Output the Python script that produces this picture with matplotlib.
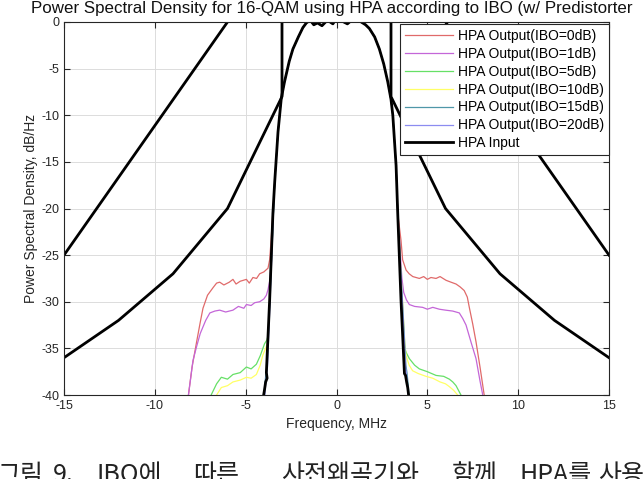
import numpy as np
import matplotlib
matplotlib.use('Agg')
import matplotlib.pyplot as plt

plt.rcParams['font.family'] = ['Liberation Sans', 'Noto Sans CJK KR', 'DejaVu Sans']
plt.rcParams['axes.unicode_minus'] = False

#-------------------------------------------------------------------------------------
# HPA input PSD (black, thick)
freq_in = [-4.05, -3.96, -3.9, -3.82, -3.86, -3.68, -3.5, -3.4, -3.22, -3.04, -2.86, -2.6, -2.4,
           -2.1, -1.85, -1.66, -1.45, -1.25, -1.05, -0.8, -0.5, -0.2, 0.0, 0.3, 0.6, 0.9, 1.2,
           1.36, 1.6, 1.81, 2.1, 2.36, 2.6, 2.82, 3.0, 3.1, 3.28, 3.37, 3.55, 3.74, 3.8, 3.86, 3.92, 4.0]
psd_in = [-40.5, -39.4, -38.6, -38.2, -37.6, -29.8, -20.5, -17.1, -11.8, -8.2, -6.4, -4.2, -2.9,
          -1.6, -0.6, -0.1, 0.2, -0.3, -0.1, -0.4, 0.2, -0.2, 0.4, 0.1, -0.2, 0.3, 0.2,
          0.0, -0.3, -0.7, -1.6, -2.9, -4.5, -6.4, -8.3, -10.0, -15.4, -20.5, -29.8, -37.7, -37.9, -38.6, -39.2, -40.5]

# spectral masks (black)
maskA_left_f = [-15, -6]
maskA_left_p = [-25, 0]
maskA_right_f = [6, 15]
maskA_right_p = [0, -25]
maskB_left_f = [-15, -12, -9, -6, -3, -3]
maskB_left_p = [-36, -32, -27, -20, -8, 0]
maskB_right_f = [3, 3, 6, 9, 12, 15]
maskB_right_p = [0, -8, -20, -27, -32, -36]

# HPA outputs, out-of-band parts (left / right of the main lobe)
ibo0_fl = [-8.4, -8.15, -7.95, -7.7, -7.5, -7.35, -7.1, -6.8, -6.6, -6.43, -6.2, -5.9, -5.7, -5.53,
           -5.3, -4.96, -4.8, -4.6, -4.4, -4.23, -4.0, -3.77, -3.68, -3.6]
ibo0_pl = [-42, -40, -37, -34.3, -32.2, -30.7, -29.3, -28.5, -28.0, -27.9, -28.2, -27.9, -27.6, -28.1,
           -27.8, -27.6, -28.0, -27.4, -27.5, -27.0, -26.8, -26.4, -25.5, -23.4]
ibo0_fr = [3.55, 3.64, 3.83, 4.0, 4.2, 4.56, 4.8, 5.0, 5.2, 5.48, 5.7, 6.03, 6.3, 6.58, 6.8, 7.03,
           7.2, 7.31, 7.5, 7.68, 7.9, 8.13, 8.3]
ibo0_pr = [-23.4, -25.5, -26.6, -27.0, -27.3, -27.5, -27.3, -27.6, -27.4, -27.5, -27.3, -27.7, -27.9,
           -28.1, -28.4, -28.8, -29.5, -30.6, -32.4, -34.3, -37.0, -40, -42]

ibo1_fl = [-8.4, -8.15, -7.9, -7.7, -7.5, -7.2, -6.97, -6.7, -6.43, -6.1, -5.7, -5.4, -5.1, -4.96,
           -4.7, -4.5, -4.23, -4.0, -3.86, -3.77, -3.65]
ibo1_pl = [-42, -40, -36.3, -34.8, -33.4, -32.0, -31.2, -31.0, -30.9, -31.1, -30.9, -30.5, -30.7,
           -30.3, -30.4, -30.1, -30.0, -29.7, -29.3, -28.7, -27.5]
ibo1_fr = [3.6, 3.7, 3.85, 4.01, 4.3, 4.74, 5.0, 5.3, 5.66, 6.0, 6.4, 6.76, 6.95, 7.13, 7.4, 7.68,
           7.9, 8.05, 8.2]
ibo1_pr = [-27.5, -29.0, -29.8, -30.3, -30.5, -30.6, -30.8, -30.6, -30.8, -30.9, -31.0, -31.2, -31.8,
           -32.5, -34.3, -36.1, -38.5, -40, -42]

ibo5_fl = [-7.1, -6.9, -6.6, -6.34, -6.0, -5.7, -5.3, -4.96, -4.7, -4.41, -4.2, -3.96, -3.83, -3.75]
ibo5_pl = [-42, -40, -38.8, -38.1, -38.3, -37.8, -37.6, -37.0, -37.2, -36.7, -35.8, -34.5, -34.1, -33.5]
ibo5_fr = [3.72, 3.85, 4.01, 4.3, 4.56, 5.0, 5.48, 5.9, 6.21, 6.4, 6.58, 6.85, 7.0]
ibo5_pr = [-34.8, -35.5, -36.1, -36.8, -37.2, -37.5, -37.9, -38.0, -38.3, -38.6, -39.0, -40, -42]

ibo10_fl = [-6.8, -6.6, -6.34, -6.0, -5.7, -5.3, -4.96, -4.7, -4.41, -4.2, -4.05, -3.86, -3.78]
ibo10_pl = [-42, -40, -39.2, -39.0, -38.6, -38.4, -38.1, -38.2, -37.8, -36.8, -35.7, -34.8, -34.3]
ibo10_fr = [3.76, 3.83, 4.0, 4.19, 4.5, 4.93, 5.3, 5.7, 6.0, 6.21, 6.45, 6.67, 6.8]
ibo10_pr = [-34.5, -35.8, -36.8, -37.4, -37.7, -38.0, -38.2, -38.6, -38.8, -39.1, -39.5, -40, -42]

ibo15_fl = [-4.05, -3.95, -3.88, -3.82]
ibo15_pl = [-42, -39, -37.6, -36.8]
ibo15_fr = [3.82, 3.88, 3.95, 4.05]
ibo15_pr = [-36.8, -37.6, -39, -42]

ibo20_fl = [-4.02, -3.93, -3.86, -3.8]
ibo20_pl = [-42, -39.5, -38, -37]
ibo20_fr = [3.8, 3.86, 3.93, 4.02]
ibo20_pr = [-37, -38, -39.5, -42]

labels = ['HPA Output(IBO=0dB)', 'HPA Output(IBO=1dB)', 'HPA Output(IBO=5dB)',
          'HPA Output(IBO=10dB)', 'HPA Output(IBO=15dB)', 'HPA Output(IBO=20dB)']
colors = ['#e06a6a', '#c466d8', '#66e066', '#ffff66', '#4f97a8', '#8c8cf0']

# title is cropped in the source image after "Predistorter"
title = 'Power Spectral Density for 16-QAM using HPA according to IBO (w/ Predistorter'
# caption words and their left edges (pixels) as laid out in the page
caption_words = ['그림', '9.', 'IBO에', '따른', '사전왜곡기와', '함께', 'HPA를', '사용한']
caption_x = [-2, 53, 96, 193, 281, 452, 520, 598]

#-------------------------------------------------------------------------------------
fig = plt.figure(figsize=(6.43, 4.79), dpi=100)
ax = fig.add_axes([64/643, 1-395/479, (609-64)/643, (395-22)/479])

fin = np.array(freq_in)
pin = np.array(psd_in)

outs = [(ibo0_fl, ibo0_pl, ibo0_fr, ibo0_pr), (ibo1_fl, ibo1_pl, ibo1_fr, ibo1_pr),
        (ibo5_fl, ibo5_pl, ibo5_fr, ibo5_pr), (ibo10_fl, ibo10_pl, ibo10_fr, ibo10_pr),
        (ibo15_fl, ibo15_pl, ibo15_fr, ibo15_pr), (ibo20_fl, ibo20_pl, ibo20_fr, ibo20_pr)]
inner = np.abs(fin) < 3.45
for (fl, pl, fr, pr), lab, c in zip(outs, labels, colors):
    f = np.concatenate([fl, fin[inner], fr])
    p = np.concatenate([pl, pin[inner], pr])
    ax.plot(f, p, color=c, lw=0.9, label=lab)

ax.plot(fin, pin, color='black', lw=2.0, label='HPA Input')
for mf, mp in [(maskA_left_f, maskA_left_p), (maskA_right_f, maskA_right_p),
               (maskB_left_f, maskB_left_p), (maskB_right_f, maskB_right_p)]:
    ax.plot(mf, mp, color='black', lw=2.0)

ax.set_xlim(-15, 15)
ax.set_ylim(-40, 0)
ax.set_xticks(np.arange(-15, 16, 5))
ax.set_yticks(np.arange(-40, 1, 5))
ax.grid(True, color='#dcdcdc', lw=0.7)
ax.set_axisbelow(True)
ax.tick_params(direction='in', length=4, colors='#262626', labelsize=9, top=True, right=True,
               labeltop=False, labelright=False)
for s in ax.spines.values():
    s.set_color('#262626')
    s.set_linewidth(0.8)
ax.set_xlabel('Frequency, MHz', fontsize=10, color='#262626', labelpad=4)
ax.set_ylabel('Power Spectral Density, dB/Hz', fontsize=10, color='#262626', labelpad=2)

leg = ax.legend(loc='upper right', bbox_to_anchor=(1.004, 1.0), fontsize=10, frameon=True,
                fancybox=False, framealpha=1, edgecolor='#262626', handlelength=3.4,
                handletextpad=0.4, labelspacing=0.28, borderpad=0.35, borderaxespad=0.15)
leg.get_frame().set_linewidth(0.8)

fig.text(31/643, 1-9/479, title, fontsize=12.2, color='#111111', ha='left', va='center')
for w, x in zip(caption_words, caption_x):
    fig.text(x/643, 1-462/479, w, fontsize=18, color='#222222', ha='left', va='top',
             family=['Noto Sans CJK KR', 'DejaVu Sans'])

fig.savefig('out.png', dpi=100)
